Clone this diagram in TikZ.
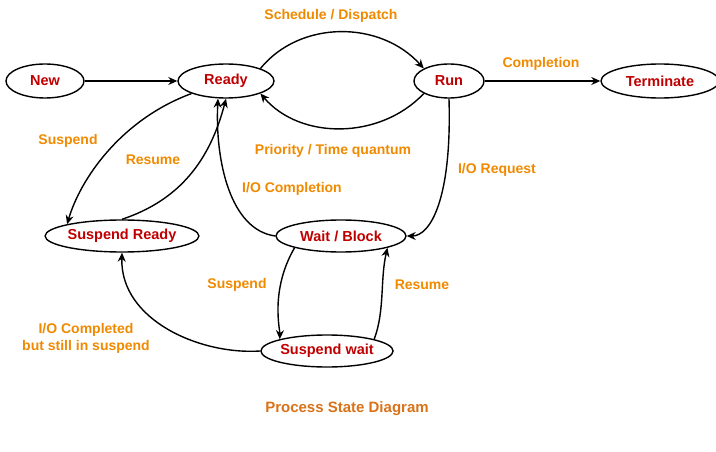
\documentclass[tikz,border=0pt]{standalone}
\usepackage{fontspec}
\setmainfont{Liberation Sans}
\usetikzlibrary{shapes.geometric,arrows.meta}
\definecolor{nodetxt}{HTML}{C00000}
\definecolor{lbl}{HTML}{F08A00}
\definecolor{ttl}{HTML}{D9731A}
\tikzset{
 st/.style={ellipse,draw,line width=1.4pt,inner sep=0pt,text=nodetxt,font=\bfseries\fontsize{14.5}{17}\selectfont},
 lb/.style={text=lbl,font=\bfseries\fontsize{14}{17}\selectfont,align=center},
 ar/.style={line width=1.4pt,-{Stealth[length=9pt,width=8pt]}}
}
\begin{document}
\begin{tikzpicture}[x=1pt,y=-1pt]
\useasboundingbox[fill=white] (0,0) rectangle (716,452);
\node[st,minimum width=78pt,minimum height=34pt] (new) at (45,81) {New};
\node[st,minimum width=96pt,minimum height=34pt] (ready) at (226,81) {Ready};
\node[st,minimum width=70pt,minimum height=34pt] (run) at (449,81) {Run};
\node[st,minimum width=118pt,minimum height=34pt] (term) at (660,81) {Terminate};
\node[st,minimum width=152pt,minimum height=32pt] (sr) at (122,236) {Suspend Ready};
\node[st,minimum width=130pt,minimum height=32pt] (wb) at (341,236) {Wait / Block};
\node[st,minimum width=122pt,minimum height=32pt] (sw) at (327,351) {Suspend wait};

\draw[ar] (new) -- (ready);
\draw[ar] (run) -- (term);
\draw[ar] (ready.north east) .. controls (300,20) and (380,20) .. (run.north west);
\draw[ar] (run.south west) .. controls (380,140) and (300,140) .. (ready.south east);
\draw[ar] (ready.south west) .. controls (120,120) and (80,180) .. (sr.north west);
\draw[ar] (sr.north) .. controls (180,200) and (210,160) .. (ready.south);
\draw[ar] (wb.west) .. controls (230,230) and (215,160) .. ([xshift=-8pt]ready.south);
\draw[ar] (run.south) .. controls (452,200) and (430,236) .. (wb.east);
\draw[ar] (wb.south west) .. controls (270,290) and (280,330) .. (sw.north west);
\draw[ar] (sw.north east) .. controls (385,310) and (380,280) .. (wb.south east);
\draw[ar] (sw.west) .. controls (200,355) and (120,320) .. (sr.south);

\node[lb] at (331,16) {Schedule / Dispatch};
\node[lb] at (333,151) {Priority / Time quantum};
\node[lb] at (541,64) {Completion};
\node[lb] at (68,141) {Suspend};
\node[lb] at (153,160) {Resume};
\node[lb] at (292,189) {I/O Completion};
\node[lb] at (497,170) {I/O Request};
\node[lb] at (237,285) {Suspend};
\node[lb] at (422,285) {Resume};
\node[lb] at (86,338) {I/O Completed\\but still in suspend};
\node[text=ttl,font=\bfseries\fontsize{15}{18}\selectfont] at (347,409) {Process State Diagram};
\end{tikzpicture}
\end{document}
